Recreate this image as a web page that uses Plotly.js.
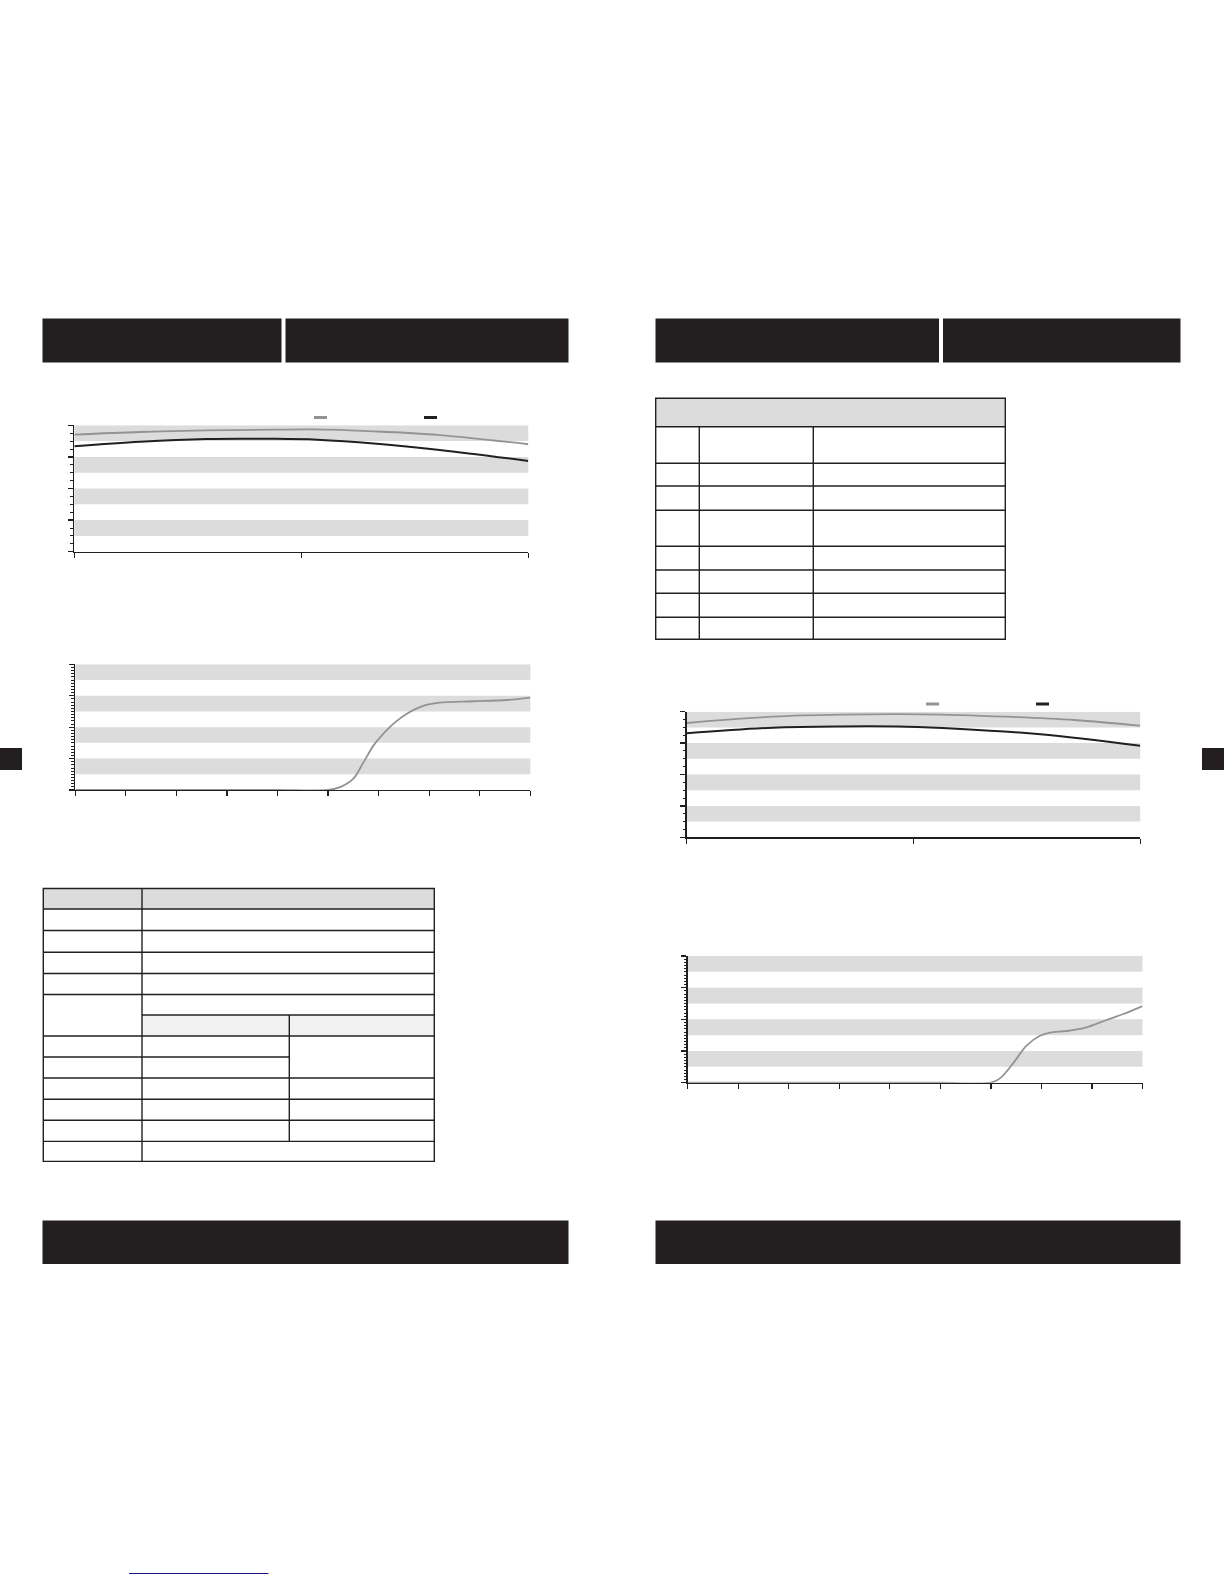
<!DOCTYPE html>
<html>
<head>
<meta charset="utf-8">
<script src="https://cdn.plot.ly/plotly-3.0.1.min.js"></script>
<style>
html,body{margin:0;padding:0;background:#fff;}
#page{width:1224px;height:1584px;}
</style>
</head>
<body>
<div id="page"></div>
<script>
// ---- data ----
// Chart 1 (upper left): two curves over x 0..2
var c1X     = [0, 0.29, 0.58, 0.88, 1.05, 1.32, 1.61, 2.0];
var c1Gray  = [92.6, 94.7, 96.0, 96.5, 96.7, 95.2, 92.3, 85.0];
var c1BlackX = [0, 0.29, 0.58, 0.88, 1.07, 1.32, 1.61, 2.0];
var c1Black = [83.4, 87.0, 89.2, 89.3, 88.6, 85.7, 80.5, 71.8];

// Chart 2 (lower left): one curve over x 0..9
var c2X   = [0, 1, 2, 3, 4, 5.0, 5.25, 5.5, 5.7, 5.9, 6.1, 6.3, 6.55, 6.88, 7.2, 7.87, 8.53, 9.0];
var c2Val = [0, 0, 0, 0, 0, 0, 2.5, 9.0, 22.0, 35.5, 45.0, 53.0, 60.5, 67.0, 69.5, 70.6, 71.6, 73.5];

// Chart 3 (upper right): two curves over x 0..2
var c3GrayX  = [0, 0.38, 0.68, 1.04, 1.41, 1.71, 2.0];
var c3Gray   = [91.0, 96.0, 97.6, 97.9, 96.0, 93.4, 88.9];
var c3BlackX = [0, 0.38, 0.68, 0.97, 1.19, 1.56, 2.0];
var c3Black  = [82.8, 87.3, 88.3, 88.1, 86.5, 82.0, 72.9];

// Chart 4 (lower right): one curve over x 0..9
var c4X   = [0, 1, 2, 3, 4, 5, 6.0, 6.18, 6.44, 6.70, 6.97, 7.17, 7.50, 7.89, 8.29, 8.62, 9.0];
var c4Val = [0, 0, 0, 0, 0, 0, 0, 3.4, 15.3, 29.0, 37.0, 39.5, 40.8, 43.7, 49.5, 54.2, 60.5];

// ---- styling ----
var W = 1224, H = 1584;
var INK = '#231f20', GRAY = '#939393', BAND = '#dcdcdc';
function fx(x){ return x / W; }
function fy(y){ return 1 - y / H; }

var shapes = [];
function rect(x0, y0, x1, y1, fill, lineW){
  shapes.push({type:'rect', xref:'paper', yref:'paper', x0:fx(x0), x1:fx(x1), y0:fy(y1), y1:fy(y0),
    fillcolor: fill || 'rgba(0,0,0,0)', line:{width: lineW || 0, color: INK}, layer:'below'});
}
function seg(x0, y0, x1, y1, w, col){
  shapes.push({type:'line', xref:'paper', yref:'paper', x0:fx(x0), x1:fx(x1), y0:fy(y0), y1:fy(y1),
    line:{width: w || 1.4, color: col || INK}});
}

// header bars, bottom bars, side tabs
rect(42.5, 318.5, 281.5, 362.5, INK);
rect(285.5, 318.5, 568.5, 362.5, INK);
rect(655.5, 318.5, 939, 362.5, INK);
rect(943, 318.5, 1180.5, 362.5, INK);
rect(42.5, 1220.5, 568.5, 1264, INK);
rect(655.5, 1220.5, 1180.5, 1264, INK);
rect(0, 748, 22, 770, INK);
rect(1202, 748, 1224, 770, INK);
seg(129, 1573.5, 268.5, 1573.5, 1.2, '#1a1a80');

// legend keys
seg(314, 417.5, 327, 417.5, 3, GRAY);
seg(424, 417.5, 437, 417.5, 3, INK);
seg(926, 704, 939, 704, 3, GRAY);
seg(1036, 704, 1049, 704, 3, INK);

// left table
rect(43.3, 888.5, 434.3, 909, BAND);
rect(142, 1015, 434.3, 1036, '#f2f2f2');
rect(43.3, 888.5, 434.3, 1161.4, null, 1.4);
[909, 930.5, 952.3, 973.5, 994.5, 1036, 1078, 1099.2, 1120.2, 1141.4].forEach(function(y){ seg(43.3, y, 434.3, y); });
seg(142, 1015, 434.3, 1015);
seg(43.3, 1057, 289.3, 1057);
seg(142, 888.5, 142, 1161.4);
seg(289.3, 1015, 289.3, 1141.4);

// right table
rect(655.7, 398.3, 1005.3, 426.7, BAND);
rect(655.7, 398.3, 1005.3, 639.3, null, 1.4);
[426.7, 463.3, 486, 510.3, 546.3, 570, 593.3, 617.3].forEach(function(y){ seg(655.7, y, 1005.3, y); });
seg(699.3, 426.7, 699.3, 639.3);
seg(813.3, 426.7, 813.3, 639.3);

// plot bands (alternate stripes in each chart)
function bands(ax){
  [[87.5,100],[62.5,75],[37.5,50],[12.5,25]].forEach(function(b){
    shapes.push({type:'rect', xref: ax[0] + ' domain', yref: ax[1], x0:0, x1:1, y0:b[0], y1:b[1],
      fillcolor: BAND, line:{width:0}, layer:'below'});
  });
}
bands(['x','y']); bands(['x2','y2']); bands(['x3','y3']); bands(['x4','y4']);

function xax(d0, d1, maxX, anchor){
  return {domain:[fx(d0), fx(d1)], range:[0, maxX], anchor: anchor, showgrid:false, zeroline:false,
    showline:true, linecolor: INK, linewidth:1.4, ticks:'outside', ticklen:5, tickwidth:1.2, tickcolor: INK,
    dtick:1, tick0:0, showticklabels:false, fixedrange:true};
}
function yax(t, b, minorStep, anchor){
  return {domain:[fy(b), fy(t)], range:[0, 100], anchor: anchor, showgrid:false, zeroline:false,
    showline:true, linecolor: INK, linewidth:1.4, ticks:'outside', ticklen:5, tickwidth:1.2, tickcolor: INK,
    dtick:25, tick0:0, showticklabels:false, fixedrange:true,
    minor:{ticks:'outside', ticklen:2.5, tickwidth:1, tickcolor: INK, dtick: minorStep, showgrid:false}};
}

var traces = [
  {x:c1X, y:c1Gray, xaxis:'x', yaxis:'y', mode:'lines', line:{color:GRAY, width:1.8, shape:'spline', smoothing:1}},
  {x:c1BlackX, y:c1Black, xaxis:'x', yaxis:'y', mode:'lines', line:{color:INK, width:2, shape:'spline', smoothing:1}},
  {x:c2X, y:c2Val, xaxis:'x2', yaxis:'y2', mode:'lines', line:{color:GRAY, width:1.8, shape:'spline', smoothing:0.9}},
  {x:c3GrayX, y:c3Gray, xaxis:'x3', yaxis:'y3', mode:'lines', line:{color:GRAY, width:1.8, shape:'spline', smoothing:1}},
  {x:c3BlackX, y:c3Black, xaxis:'x3', yaxis:'y3', mode:'lines', line:{color:INK, width:2, shape:'spline', smoothing:1}},
  {x:c4X, y:c4Val, xaxis:'x4', yaxis:'y4', mode:'lines', line:{color:GRAY, width:1.8, shape:'spline', smoothing:0.9}}
];
traces.forEach(function(t){ t.showlegend = false; t.hoverinfo = 'skip'; t.cliponaxis = false; });

var layout = {
  width: W, height: H, margin:{l:0, r:0, t:0, b:0, pad:0},
  paper_bgcolor:'#ffffff', plot_bgcolor:'rgba(0,0,0,0)', showlegend:false,
  xaxis:  xax(74.3, 528.3, 2, 'y'),
  yaxis:  yax(425.3, 551.7, 6.25, 'x'),
  xaxis2: xax(75.3, 530.3, 9, 'y2'),
  yaxis2: yax(664.3, 790, 2.5, 'x2'),
  xaxis3: xax(686.7, 1140.2, 2, 'y3'),
  yaxis3: yax(711.7, 837.3, 6.25, 'x3'),
  xaxis4: xax(687.7, 1142.5, 9, 'y4'),
  yaxis4: yax(956, 1082.7, 2.5, 'x4'),
  shapes: shapes
};

Plotly.newPlot('page', traces, layout, {staticPlot:true, displayModeBar:false});
</script>
</body>
</html>
